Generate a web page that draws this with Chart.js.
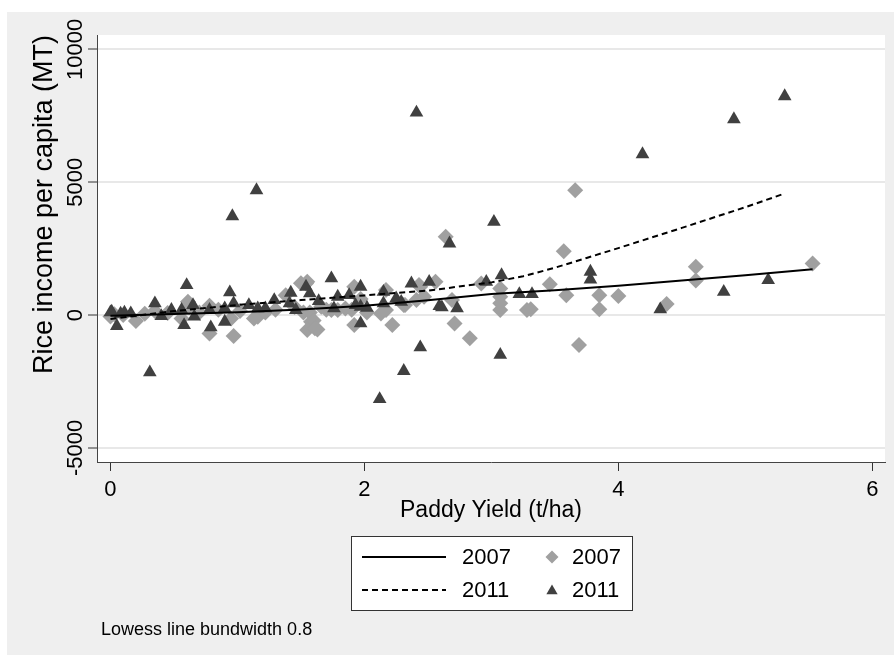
<!DOCTYPE html>
<html>
<head>
<meta charset="utf-8">
<script src="https://cdn.jsdelivr.net/npm/chart.js@4.4.0/dist/chart.umd.min.js"></script>
<style>
  html, body { margin: 0; padding: 0; background: #fff; }
  #wrap { width: 894px; height: 659px; }
</style>
</head>
<body>
<div id="wrap"><canvas id="yieldChart" width="894" height="659"></canvas></div>
<script>
// paddy yield (t/ha) vs rice income per capita (MT)
var yield2007 = [0.00, 0.03, 0.10, 0.20, 0.27, 0.35, 0.45, 0.56, 0.61, 0.62, 0.70, 0.78, 0.78, 0.85, 0.95,
  0.97, 1.02, 1.13, 1.16, 1.22, 1.30, 1.38, 1.45, 1.50, 1.52, 1.54, 1.55, 1.55, 1.57, 1.58, 1.60, 1.61,
  1.63, 1.66, 1.70, 1.74, 1.79, 1.85, 1.90, 1.92, 1.92, 1.97, 2.02, 2.13, 2.17, 2.17, 2.22, 2.31, 2.32,
  2.41, 2.43, 2.44, 2.47, 2.56, 2.64, 2.69, 2.71, 2.83, 2.92, 3.07, 3.07, 3.07, 3.07, 3.28, 3.31, 3.46,
  3.57, 3.59, 3.66, 3.69, 3.85, 3.85, 4.00, 4.38, 4.61, 4.61, 5.53];
var income2007 = [-50, 30, 0, -220, 50, 150, 80, -125, 500, 300, 100, -690, 350, 200, -125,
  -790, 150, -125, -60, 100, 200, 750, 300, 1200, 100, 1190, 1250, -565, 100, -250, -200, -500,
  -540, 315, 200, 190, 190, 250, 200, 1065, -376, 600, 100, 60, 940, 190, -376, 375, 375,
  565, 1130, 1065, 690, 1250, 2945, 565, -313, -877, 1190, 1000, 690, 440, 190, 190, 215, 1155,
  2405, 750, 4700, -1130, 750, 215, 715, 415, 1815, 1300, 1940];

var yield2011 = [0.00, 0.01, 0.05, 0.08, 0.11, 0.16, 0.31, 0.35, 0.40, 0.48, 0.56, 0.58, 0.60, 0.65, 0.66,
  0.78, 0.79, 0.90, 0.90, 0.94, 0.96, 0.97, 1.09, 1.15, 1.16, 1.22, 1.29, 1.41, 1.42, 1.46, 1.54, 1.57,
  1.64, 1.74, 1.76, 1.79, 1.88, 1.93, 1.97, 1.97, 1.97, 2.02, 2.12, 2.15, 2.15, 2.25, 2.29, 2.31, 2.37,
  2.41, 2.44, 2.51, 2.59, 2.61, 2.67, 2.73, 2.96, 3.02, 3.07, 3.08, 3.22, 3.32, 3.78, 3.78, 4.19, 4.33,
  4.83, 4.91, 5.18, 5.31];
var income2011 = [100, 125, -410, 50, 90, 65, -2155, 440, -40, 190, 190, -376, 1130, 375, -60,
  190, -463, -250, 250, 855, 3720, 440, 375, 4700, 250, 250, 565, 440, 840, 190, 1065, 815,
  525, 1380, 250, 690, 750, 375, 1065, 315, -313, 275, -3160, 875, 440, 630, 500, -2105, 1190,
  7620, -1215, 1250, 340, 290, 2695, 250, 1250, 3510, -1500, 1500, 790, 790, 1630, 1340, 6054, 215,
  875, 7370, 1315, 8235];

// lowess fits (bandwidth 0.8)
var lowessX2007 = [0, 0.5, 1.0, 1.5, 2.0, 2.5, 3.0, 3.5, 4.0, 4.5, 5.0, 5.53];
var lowessY2007 = [-30, 40, 110, 210, 350, 560, 790, 930, 1100, 1300, 1500, 1720];
var lowessX2011 = [0, 0.5, 1.0, 1.5, 2.0, 2.5, 3.0, 3.25, 3.5, 3.75, 4.0, 4.5, 5.0, 5.31];
var lowessY2011 = [-150, 150, 380, 565, 740, 920, 1230, 1460, 1780, 2150, 2520, 3280, 4060, 4575];

var xTicks = [0, 2, 4, 6];
var yTicks = [-5000, 0, 5000, 10000];

var FONT = '"Liberation Sans", Arial, Helvetica, sans-serif';

function toPoints(xs, ys) {
  return xs.map(function(x, i) { return {x: x, y: ys[i]}; });
}

// grey graph region, white plot region, legend box and note (Stata look)
var stataFrame = {
  id: 'stataFrame',
  beforeDraw: function(chart) {
    var ctx = chart.ctx, a = chart.chartArea;
    ctx.save();
    ctx.fillStyle = '#ffffff';
    ctx.fillRect(0, 0, chart.width, chart.height);
    ctx.fillStyle = '#efefef';
    ctx.fillRect(7, 12, chart.width - 7, 643);
    ctx.fillStyle = '#ffffff';
    ctx.fillRect(a.left, a.top, a.right - a.left, a.bottom - a.top);
    ctx.restore();
  },
  afterDraw: function(chart) {
    var ctx = chart.ctx;
    var ds = chart.data.datasets;
    var bx = 351, by = 536, bw = 281, bh = 74;
    var rows = [557, 590];
    ctx.save();
    ctx.fillStyle = '#ffffff';
    ctx.fillRect(bx, by, bw, bh);
    ctx.strokeStyle = '#333333';
    ctx.lineWidth = 1;
    ctx.strokeRect(bx + 0.5, by + 0.5, bw, bh);

    ctx.font = '22px ' + FONT;
    ctx.textBaseline = 'middle';
    ctx.textAlign = 'left';
    for (var r = 0; r < 2; r++) {
      var line = ds[r], mark = ds[r + 2], y = rows[r];
      ctx.strokeStyle = line.borderColor;
      ctx.lineWidth = line.borderWidth;
      ctx.setLineDash(line.borderDash || []);
      ctx.beginPath();
      ctx.moveTo(362, y);
      ctx.lineTo(446, y);
      ctx.stroke();
      ctx.setLineDash([]);
      ctx.fillStyle = '#000000';
      ctx.fillText(line.label, 462, y + 1);

      ctx.fillStyle = mark.backgroundColor;
      Chart.helpers.drawPoint(ctx, {pointStyle: mark.pointStyle, radius: 6.5, rotation: 0, borderWidth: 0}, 552, y + (r === 1 ? 1 : 0));
      ctx.fillStyle = '#000000';
      ctx.fillText(mark.label, 572, y + 1);
    }

    ctx.font = '18px ' + FONT;
    ctx.fillText('Lowess line bundwidth 0.8', 101, 630);
    ctx.restore();
  }
};

var ctxYield = document.getElementById('yieldChart').getContext('2d');
var yieldChart = new Chart(ctxYield, {
  type: 'scatter',
  data: {
    datasets: [{
      label: '2007',
      data: toPoints(lowessX2007, lowessY2007),
      showLine: true,
      borderColor: '#000000',
      borderWidth: 2,
      pointRadius: 0,
      fill: false,
      order: 0
    },
    {
      label: '2011',
      data: toPoints(lowessX2011, lowessY2011),
      showLine: true,
      borderColor: '#000000',
      borderWidth: 2,
      borderDash: [6, 4],
      pointRadius: 0,
      fill: false,
      order: 0
    },
    {
      label: '2007',
      data: toPoints(yield2007, income2007),
      pointStyle: 'rectRot',
      pointRadius: 8,
      backgroundColor: '#a0a0a0',
      borderWidth: 0,
      order: 2
    },
    {
      label: '2011',
      data: toPoints(yield2011, income2011),
      pointStyle: 'triangle',
      pointRadius: 7.9,
      backgroundColor: '#404040',
      borderWidth: 0,
      order: 1
    }]
  },
  options: {
    responsive: false,
    animation: false,
    devicePixelRatio: 1,
    layout: { padding: { left: 7, right: 9, top: 35, bottom: 135 } },
    plugins: {
      legend: { display: false },
      tooltip: { enabled: false }
    },
    scales: {
      x: {
        type: 'linear',
        min: -0.106,
        max: 6.1,
        afterBuildTicks: function(s) { s.ticks = xTicks.map(function(v) { return {value: v}; }); },
        afterFit: function(s) { s.height = 62; },
        ticks: {
          color: '#000',
          font: { family: FONT, size: 22 },
          padding: 6,
          callback: function(v) { return String(v); }
        },
        grid: { drawOnChartArea: false, drawTicks: true, tickLength: 9, tickColor: '#333', tickWidth: 1 },
        border: { color: '#444', width: 1 },
        title: {
          display: true,
          text: 'Paddy Yield (t/ha)',
          color: '#000',
          font: { family: FONT, size: 23 },
          padding: { top: 0, bottom: 0 }
        }
      },
      y: {
        type: 'linear',
        min: -5530,
        max: 10540,
        afterBuildTicks: function(s) { s.ticks = yTicks.map(function(v) { return {value: v}; }); },
        afterFit: function(s) { s.width = 90; },
        ticks: {
          color: '#000',
          font: { family: FONT, size: 22 },
          minRotation: 90,
          maxRotation: 90,
          crossAlign: 'center',
          padding: -19,
          callback: function(v) { return String(v); }
        },
        grid: { color: '#e8e8e8', lineWidth: 2, tickLength: 9, tickColor: '#333', tickWidth: 1 },
        border: { color: '#444', width: 1 },
        title: {
          display: true,
          text: 'Rice income per capita (MT)',
          align: 'end',
          color: '#000',
          font: { family: FONT, size: 27 },
          padding: { top: 21, bottom: 0 }
        }
      }
    }
  },
  plugins: [stataFrame]
});
</script>
</body>
</html>
